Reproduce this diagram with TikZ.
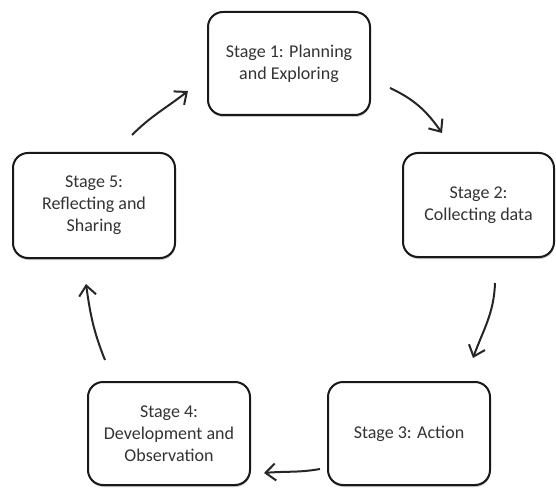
\documentclass[tikz,border=0pt]{standalone}
\usepackage{fontspec}
\setmainfont{Carlito}
\usetikzlibrary{arrows.meta,shadows}
\begin{document}
\begin{tikzpicture}[x=1pt,y=1pt,
  stagebox/.style={draw=black!90, line width=2pt, rounded corners=15pt, fill=white,
    align=center, inner sep=0pt, text=black!80,
    font=\fontsize{18}{22}\selectfont,
    drop shadow={shadow xshift=0.5pt, shadow yshift=-2pt, opacity=0.35, fill=black!60}},
  cyc/.style={line width=2pt, draw=black!85, -{Straight Barb[length=10pt,width=17pt,line width=2pt]}}]
\useasboundingbox (0,0) rectangle (556,488);
\fill[white] (0,0) rectangle (556,488);
\node[stagebox, minimum width=162pt, minimum height=103pt] (s1) at (289,424.5) {Stage 1: Planning\\and Exploring};
\node[stagebox, minimum width=151pt, minimum height=104pt] (s2) at (478.5,283) {Stage 2:\\Collecting data};
\node[stagebox, minimum width=162pt, minimum height=103pt] (s3) at (409,54.5) {Stage 3: Action};
\node[stagebox, minimum width=162pt, minimum height=103pt] (s4) at (169,54.5) {Stage 4:\\Development and\\Observation};
\node[stagebox, minimum width=162pt, minimum height=105pt] (s5) at (94,282.5) {Stage 5:\\Reflecting and\\Sharing};
\coordinate (a1s) at (390,400);
\coordinate (a1e) at (442,355);
\coordinate (a2s) at (495,205);
\coordinate (a2e) at (473,130);
\coordinate (a3s) at (320,19);
\coordinate (a3e) at (264,15);
\coordinate (a4s) at (105,128);
\coordinate (a4e) at (86,204);
\coordinate (a5s) at (132,353);
\coordinate (a5e) at (188,397);
\draw[cyc] (a1s) to[out=-25,in=125] (a1e);
\draw[cyc] (a2s) to[out=-92,in=70] (a2e);
\draw[cyc] (a3s) to[out=190,in=5] (a3e);
\draw[cyc] (a4s) to[out=112,in=-82] (a4e);
\draw[cyc] (a5s) to[out=45,in=-142] (a5e);
\end{tikzpicture}
\end{document}
